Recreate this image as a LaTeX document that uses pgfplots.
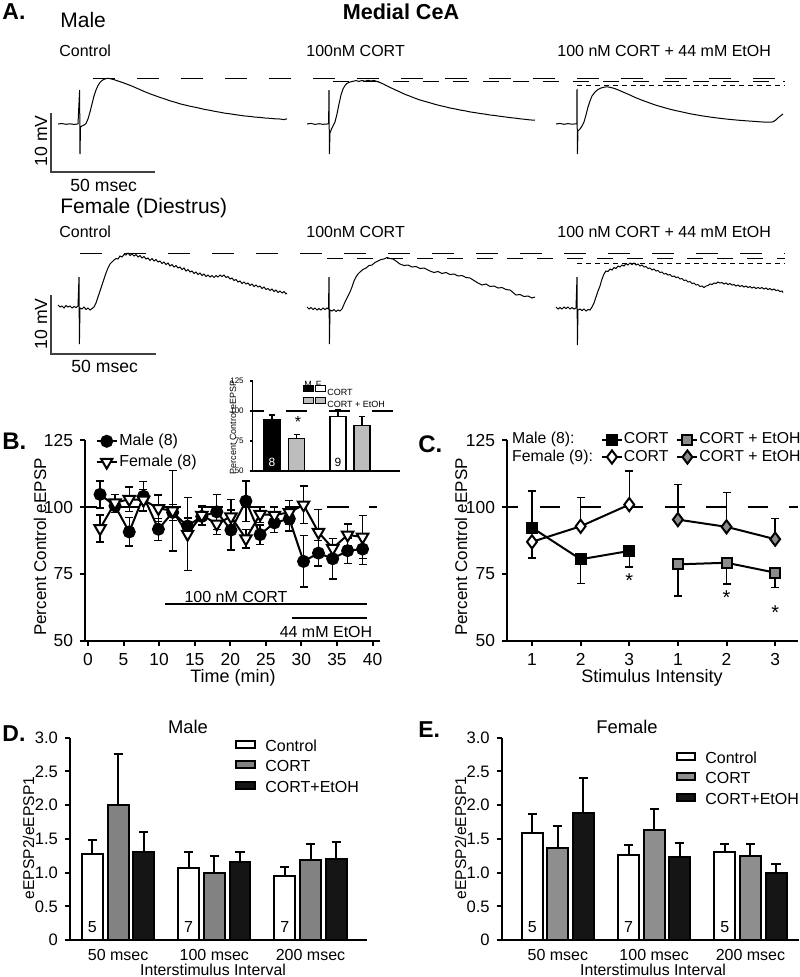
\documentclass[border=0pt]{standalone}
\usepackage{fontspec}
\setmainfont{Liberation Sans}
\usepackage{pgfplots}
\pgfplotsset{compat=1.18}

\newcommand\fs[1]{\fontsize{#1bp}{#1bp}\selectfont}
\definecolor{cgray}{HTML}{8C8C8C}
\definecolor{igray}{HTML}{BDBDBD}
\definecolor{dgray}{HTML}{828282}
\definecolor{egray}{HTML}{8E8E8E}
\definecolor{bblack}{HTML}{151515}

\pgfplotsset{
  gp/.style={scale only axis, axis x line=bottom, axis y line=left,
    axis line style={-, line width=1bp}, tick align=outside, major tick length=2.5bp,
    tick style={line width=1bp, black}, ticklabel style={font=\fs{8.7}},
    /pgf/number format/assume math mode=true, clip=false},
  ebar/.style={error bars/y dir=both, error bars/y explicit,
    error bars/error bar style={line width=0.7bp, solid},
    error bars/error mark options={rotate=90, mark size=2bp, line width=0.7bp, solid}},
  bbar/.style={error bars/y dir=plus, error bars/y explicit,
    error bars/error bar style={line width=1bp},
    error bars/error mark options={rotate=90, mark size=2.3bp, line width=1bp}},
  trace/.style={black, line width=0.5bp},
}

\begin{document}
\begin{tikzpicture}[x=0.5bp, y=-0.5bp, lab/.style={inner sep=0pt, text height=0.72em, text depth=0pt}]
\path[use as bounding box] (0,0) rectangle (800,977);
\coordinate (Ac) at (400,195);
\coordinate (Bc) at (232.5,540.5);
\coordinate (Ic) at (326.35,426);
\coordinate (Cc) at (652.5,540.5);
\coordinate (Dc) at (218.5,838.85);
\coordinate (Ec) at (650.35,838.85);

% ---------- A: example traces (pixel units)
\begin{axis}[at={(Ac)}, anchor=center, scale only axis, width=400bp, height=195bp,
  xmin=0, xmax=800, ymin=0, ymax=390, y dir=reverse, hide axis, clip=false]
% male
\addplot[trace] coordinates {(58,124) (62,123.5) (66,124.3) (70,123.8) (74,124.4) (78,123.9) (79.6,90) (80,154) (80.5,127) (82,126) (84,125) (86,123.5) (88,119) (90,112) (92,104) (94,96) (96,90) (98,85.5) (100,82.5) (102,80.5) (104,79.3) (107,78.3) (110,78.6) (114,79.6) (118,81) (122,82.3) (126,83.8) (130,85.3) (135,87.4) (140,89.6) (145,91.8) (150,93.8) (155,95.6) (160,97.4) (165,99) (170,100.8) (175,102.2) (180,103.8) (185,105) (190,106.2) (195,107.2) (200,108.3) (205,109.5) (210,110.3) (215,111.4) (220,112.2) (225,113.2) (230,113.8) (235,114.6) (240,115.3) (245,116) (250,116.4) (255,117.1) (260,117.4) (265,118) (270,118.3) (275,118.8) (280,119) (284,119.6) (287,118.8)};
\addplot[trace] coordinates {(307,124) (311,123.4) (315,124.4) (319,123.7) (323,124.3) (327,124) (328.6,123.5) (329,90) (329.4,154) (330,133) (331.5,129) (333,126) (335,122) (337,114) (339,104) (341,95) (343,89) (345,85.5) (347,83.3) (350,82) (353,81.3) (356,80.6) (359,81.4) (362,80.5) (365,81.2) (368,80.3) (371,81) (374,80.4) (377,81.5) (380,82.5) (384,84.3) (388,86.4) (392,88.3) (396,90.2) (400,92) (405,94.3) (410,96.2) (415,98.2) (420,100) (425,101.4) (430,102.8) (435,104.3) (440,105.6) (445,106.7) (450,108) (455,108.9) (460,110) (465,110.8) (470,111.9) (475,112.6) (480,113.5) (485,114.1) (490,115) (495,115.5) (500,116.3) (505,116.9) (510,117.6) (515,118.1) (520,118.8) (525,119.3) (530,119.9) (535,120.2)};
\addplot[trace] coordinates {(556,124) (560,123.4) (564,124.3) (568,123.6) (572,124.2) (576,123.8) (576.8,124) (577,89) (577.4,154) (578,131) (580,129) (582,126) (584,122) (586,115) (588,107) (590,101) (592,96) (595,92) (598,89.5) (601,88) (604,87.2) (607,86.8) (610,87.3) (614,88.3) (618,89.8) (622,91.6) (626,93.3) (630,95) (635,97.4) (640,99.4) (645,101.3) (650,103.1) (655,104.9) (660,106.4) (665,107.8) (670,109.2) (675,110.4) (680,111.5) (685,112.6) (690,113.7) (695,114.6) (700,115.5) (705,116.3) (710,117) (715,117.7) (720,118.3) (725,118.9) (730,119.4) (735,119.9) (740,120.3) (745,120.7) (750,121.1) (755,121.4) (760,121.8) (765,122.1) (770,122.2) (773,121.8) (776,119.8) (779,117) (783,114)};
% female
\addplot[trace] coordinates {(58,305) (60,307) (62,306) (64,308) (66,305.5) (68,307) (70,306) (72,308) (74,306.5) (76,307.5) (78,306) (79,277) (79.4,344) (80,308) (82,309) (84,307) (86,309.5) (88,308) (90,310) (92,308.5) (94,307) (96,303) (98,297) (100,291) (102,285) (104,279) (106,273) (108,268) (110,264) (112,262) (114,260) (116,258.5) (118,259) (120,256) (122,257) (124,254.5) (126,255) (128,253) (130,255.5) (132,254) (134,256) (136,254.5) (138,257) (140,255.5) (142,258) (144,256.5) (146,259) (148,258) (150,260.5) (152,258.5) (154,261) (156,259.5) (158,262) (160,261) (162,263.5) (164,262) (166,264.5) (168,263) (170,266) (172,264.5) (174,267) (176,265.5) (178,268) (180,267) (182,269.5) (184,268) (186,271) (188,269.5) (190,272) (192,271) (194,273.5) (196,272) (198,274.5) (200,273) (202,275.5) (204,274) (206,276.5) (208,275) (210,277) (212,275.5) (214,277.5) (216,275.5) (218,277) (220,275) (222,276.5) (224,275) (226,277.5) (228,276.5) (230,279) (232,278) (234,280.5) (236,279.5) (238,282) (240,281) (242,283.5) (244,282) (246,284) (248,283) (250,285.5) (252,284) (254,286.5) (256,285) (258,287) (260,286) (262,288.5) (264,287) (266,289.5) (268,288.5) (270,290.5) (272,289) (274,291.5) (276,290) (278,292.5) (280,291) (282,293) (284,291.5) (286,294) (287,293)};
\addplot[trace] coordinates {(307,307) (309,309) (311,307.5) (313,309.5) (315,308) (317,310) (319,308.5) (321,310) (323,308) (325,309.5) (327,308) (328.5,309) (329,277) (329.4,344) (330,310) (332,311) (334,309.5) (336,311.5) (338,310) (340,311) (342,309) (345,302) (348,296) (350,292) (352,287) (354,281) (356,277) (358,274) (360,272) (363,269.5) (366,268) (369,265.5) (372,265) (375,262.5) (378,261) (381,259.5) (384,259) (387,257.5) (390,258.5) (393,259) (396,261) (400,264) (404,265.5) (408,265) (412,267) (416,266.5) (420,268.5) (424,268) (428,270) (430,271) (434,272.5) (438,271.5) (442,273.5) (446,272.5) (450,274.5) (454,274) (458,276) (462,275.5) (466,277.5) (470,278) (474,280.5) (478,283) (482,285) (486,284) (490,286.5) (494,286) (498,288) (502,287.5) (506,289.5) (510,290) (513,292.5) (516,295) (520,294.5) (524,296.5) (528,296) (532,298) (535,297)};
\addplot[trace] coordinates {(556,307) (558,309) (560,307.5) (562,309) (564,307) (566,308.5) (568,307) (570,309) (572,307.5) (574,309) (576,308) (577,277) (577.4,345) (578,310) (580,309) (582,310.5) (584,309) (586,311) (588,309.5) (590,310) (592,307) (594,303) (596,297) (598,291) (600,286) (602,279) (604,274) (606,271) (608,271.5) (610,269) (612,270) (614,267.5) (616,268.5) (618,266) (620,267) (622,265) (624,266) (626,263.5) (628,265) (630,263) (632,264.5) (634,263) (636,265) (638,264) (640,266) (642,265) (644,267) (646,266.5) (648,268.5) (650,268) (652,270) (654,269) (656,271) (658,270.5) (660,272.5) (662,272) (664,274) (666,273.5) (668,275) (670,274.5) (672,276.5) (674,276) (676,277.5) (678,277) (680,279) (682,278.5) (684,280.5) (686,280) (688,282) (690,281.5) (692,283.5) (694,283) (696,285) (698,284.5) (700,286.5) (702,286) (704,287.5) (706,286) (708,285.5) (710,284) (712,284.5) (714,283) (716,283.5) (718,282) (720,283) (722,282.5) (724,284) (726,283) (728,284.5) (730,283.5) (732,285) (734,284.5) (736,286) (738,285) (740,286.5) (742,285.5) (744,287) (746,286) (748,287.5) (750,286.5) (752,288) (754,287) (756,288.5) (758,287.5) (760,288.5) (762,287.5) (764,289) (766,288) (768,289.5) (770,288.5) (772,290) (774,289) (776,290.5) (778,290) (780,291.5) (782,291) (783,292.5)};
% peak reference lines
\draw[line width=0.5bp, dash pattern=on 11bp off 11bp] (93,78) -- (785,78);
\draw[line width=0.5bp, dash pattern=on 8bp off 7bp] (333,81) -- (785,81);
\draw[line width=0.5bp, dash pattern=on 2.5bp off 2bp] (577,85) -- (785,85);
\draw[line width=0.5bp, dash pattern=on 11bp off 11bp] (80,253) -- (785,253);
\draw[line width=0.5bp, dash pattern=on 8bp off 7bp] (327,258) -- (785,258);
\draw[line width=0.5bp, dash pattern=on 2.5bp off 2bp] (577,263) -- (785,263);
% scale bars
\draw[line width=0.6bp, black!75] (51,113) -- (51,172) -- (155,172);
\draw[line width=0.6bp, black!75] (51,295) -- (51,354) -- (156,354);
\end{axis}

\node[lab, anchor=west, font=\fs{11.5}\bfseries] at (2,12) {A.};
\node[lab, font=\fs{10.8}\bfseries] at (401,12) {Medial CeA};
\node[lab, anchor=west, font=\fs{10.5}] at (60,20) {Male};
\node[lab, anchor=west, font=\fs{10.5}] at (60,206) {Female (Diestrus)};
\foreach \yy in {49,230} {
  \node[lab, anchor=west, font=\fs{8}] at (59,\yy) {Control};
  \node[lab, anchor=west, font=\fs{8}] at (306,\yy) {100nM CORT};
  \node[lab, anchor=west, font=\fs{8}] at (557,\yy) {100 nM CORT + 44 mM EtOH};
}
\node[lab, rotate=90, font=\fs{8.8}] at (40,141) {10 mV};
\node[lab, rotate=90, font=\fs{8.8}] at (40,324) {10 mV};
\node[lab, anchor=west, font=\fs{8.8}] at (70,184) {50 msec};
\node[lab, anchor=west, font=\fs{8.8}] at (71,365) {50 msec};

% ---------- B: time course
\begin{axis}[gp, at={(Bc)}, anchor=center, width=147.5bp, height=100.5bp,
  xmin=-0.42, xmax=41.05, ymin=50, ymax=125,
  xtick={0,5,10,15,20,25,30,35,40}, ytick={50,75,100,125},
  legend style={at={(rel axis cs:0.035,1.04)}, anchor=north west, draw=none, fill=none,
    font=\fs{8}, inner sep=0pt, row sep=1.5bp, nodes={inner sep=0.8bp}},
  legend cell align=left,
  legend image code/.code={\draw[mark repeat=2, mark phase=2, #1] plot coordinates {(0bp,0bp) (5bp,0bp) (10bp,0bp)};}]
\draw[line width=1bp, dash pattern=on 11bp off 10bp, dash phase=5bp] (axis cs:-0.42,100) -- (axis cs:40.6,100);
\addplot[black, line width=1bp, mark=*, mark size=2.75bp, mark options={solid, fill=black}, ebar]
coordinates {
(1.7,104.7) +- (0,5) (3.8,100.4) +- (0,2.5) (5.8,90.7) +- (0,5.3) (7.8,104) +- (0,5.5)
(9.9,91.7) +- (0,4.1) (11.9,98) +- (0,3) (14.0,92.9) +- (0,3) (16.0,96.5) +- (0,3.5)
(18.1,98.2) +- (0,6.5) (20.1,91.4) +- (0,7.5) (22.2,102.2) +- (0,7.5) (24.2,89.7) +- (0,3.6)
(26.2,94.1) +- (0,3.5) (28.3,95.6) +- (0,4.5) (30.3,79.7) +- (0,9.6) (32.4,82.8) +- (0,4.8)
(34.4,80.7) +- (0,7.5) (36.5,83.7) +- (0,4.7) (38.6,84.3) +- (0,5.7)};
\addlegendentry{Male (8)}
\addplot[black, line width=1bp, mark=triangle*, mark size=3.3bp, mark options={solid, fill=white, rotate=180}, ebar]
coordinates {
(1.7,92) +- (0,5) (3.8,101.6) +- (0,3) (5.8,102.9) +- (0,4.5) (7.8,102.6) +- (0,4)
(9.9,99.5) +- (0,5) (11.9,98.6) +- (0,15) (14.0,89.9) +- (0,13.7) (16.0,97) +- (0,3.5)
(18.1,93.7) +- (0,4) (20.1,96.4) +- (0,6.5) (22.2,88.2) +- (0,3.5) (24.2,97.3) +- (0,3)
(26.2,97) +- (0,3) (28.3,98) +- (0,4.5) (30.3,100.8) +- (0,7) (32.4,90.6) +- (0,8.5)
(34.4,84.6) +- (0,3.6) (36.5,89.6) +- (0,4) (38.6,88.8) +- (0,8)};
\addlegendentry{Female (8)}
\end{axis}
\draw[line width=1bp] (165,604) -- (367,604);
\draw[line width=1bp] (292,618) -- (367,618);
\node[lab, font=\fs{8}] at (236,595) {100 nM CORT};
\node[lab, font=\fs{8}] at (326,630) {44 mM EtOH};
\node[lab, anchor=west, font=\fs{12}\bfseries] at (2,442) {B.};
\node[lab, rotate=90, font=\fs{8.5}] at (39,547) {Percent Control eEPSP};
\node[lab, font=\fs{9}] at (233,675) {Time (min)};

% ---------- B inset
\begin{axis}[gp, at={(Ic)}, anchor=center, width=73.65bp, height=45bp,
  xmin=0, xmax=147.3, ymin=50, ymax=125, clip=true,
  xtick=\empty, ytick={50,75,100,125}, major tick length=1.5bp,
  axis line style={line width=0.6bp}, tick style={line width=0.6bp},
  ticklabel style={font=\fs{4}}, yticklabel style={xshift=0.5bp}]
\draw[line width=0.8bp, dash pattern=on 10.5bp off 11bp, dash phase=4.85bp] (axis cs:0,100) -- (axis cs:147.3,100);
\addplot[ybar, bar width=16, bar shift=0pt, fill=black, draw=black, line width=0.6bp,
  error bars/y dir=plus, error bars/y explicit, error bars/error bar style={line width=0.6bp},
  error bars/error mark options={rotate=90, mark size=1.5bp, line width=0.6bp}]
  coordinates {(19.3,93.1) += (0,3.6)};
\addplot[ybar, bar width=16, bar shift=0pt, fill=igray, draw=black, line width=0.6bp,
  error bars/y dir=plus, error bars/y explicit, error bars/error bar style={line width=0.6bp},
  error bars/error mark options={rotate=90, mark size=1.5bp, line width=0.6bp}]
  coordinates {(43.8,77.3) += (0,3.3) (109.3,87.8) += (0,7.5)};
\addplot[ybar, bar width=16, bar shift=0pt, fill=white, draw=black, line width=0.6bp,
  error bars/y dir=plus, error bars/y explicit, error bars/error bar style={line width=0.6bp},
  error bars/error mark options={rotate=90, mark size=1.5bp, line width=0.6bp}]
  coordinates {(85.2,95.3) += (0,5.5)};
\node[font=\fs{6}, text=white] at (axis cs:19.3,57.3) {8};
\node[font=\fs{6}] at (axis cs:85.2,57.3) {9};
\node[font=\fs{8}] at (axis cs:45.3,90.5) {*};
\end{axis}
\node[lab, rotate=90, font=\fs{4.5}] at (229,427) {Percent Control eEPSP};
\node[lab, font=\fs{4.5}] at (308,380) {M};
\node[lab, font=\fs{4.5}] at (318.5,380) {F};
\draw[fill=black, line width=0.5bp] (303,385.5) rectangle (313,391.5);
\draw[fill=white, line width=0.5bp] (315,385.5) rectangle (325,391.5);
\draw[fill=igray, line width=0.5bp] (303,397) rectangle (313,403);
\draw[fill=igray, line width=0.5bp] (315,397) rectangle (325,403);
\node[lab, anchor=west, font=\fs{4.5}] at (327,388.5) {CORT};
\node[lab, anchor=west, font=\fs{4.5}] at (327,400) {CORT + EtOH};

% ---------- C: stimulus intensity
\begin{axis}[gp, at={(Cc)}, anchor=center, width=145.5bp, height=100.5bp,
  xmin=0.486, xmax=6.47, ymin=50, ymax=125,
  xtick={1,2,3,4,5,6}, xticklabels={1,2,3,1,2,3}, ytick={50,75,100,125},
  legend columns=3,
  legend style={at={(rel axis cs:0.013,1.045)}, anchor=north west, draw=none, fill=none,
    font=\fs{7.9}, inner sep=0pt, row sep=0.5bp, nodes={inner sep=0.5bp},
    /tikz/every even column/.append style={column sep=3.5bp}},
  legend cell align=left,
  legend image code/.code={\draw[mark repeat=2, mark phase=2, #1] plot coordinates {(0bp,0bp) (5bp,0bp) (10bp,0bp)};}]
\draw[line width=1bp, dash pattern=on 10bp off 10.75bp, dash phase=4.25bp] (axis cs:0.486,100) -- (axis cs:6.47,100);
\addplot[forget plot, black, line width=1bp, mark=square*, mark size=2.5bp, mark options={solid, fill=black}, ebar]
  coordinates {(1,92.3) += (0,13.7) -= (0,0) (2,80.5) += (0,0) -= (0,9) (3,83.6) += (0,0) -= (0,6)};
\addplot[forget plot, black, line width=1bp, mark=diamond*, mark size=3.3bp, mark options={solid, fill=white}, ebar]
  coordinates {(1,87) += (0,0) -= (0,6) (2,92.8) += (0,10.7) -= (0,0) (3,100.9) += (0,12.5) -= (0,0)};
\addplot[forget plot, black, line width=1bp, mark=square*, mark size=2.5bp, mark options={solid, fill=cgray}, ebar]
  coordinates {(4,78.6) += (0,0) -= (0,11.8) (5,79.2) += (0,0) -= (0,7.9) (6,75.5) += (0,0) -= (0,5.6)};
\addplot[forget plot, black, line width=1bp, mark=diamond*, mark size=3.3bp, mark options={solid, fill=cgray}, ebar]
  coordinates {(4,95.3) += (0,13.2) -= (0,0) (5,92.6) += (0,12.8) -= (0,0) (6,88) += (0,7.7) -= (0,0)};
\addlegendimage{empty legend}\addlegendentry{Male (8):}
\addlegendimage{black, line width=1bp, mark=square*, mark size=2.5bp, mark options={solid, fill=black}}\addlegendentry{CORT}
\addlegendimage{black, line width=1bp, mark=square*, mark size=2.5bp, mark options={solid, fill=cgray}}\addlegendentry{CORT + EtOH}
\addlegendimage{empty legend}\addlegendentry{Female (9):}
\addlegendimage{black, line width=1bp, mark=diamond*, mark size=3.3bp, mark options={solid, fill=white}}\addlegendentry{CORT}
\addlegendimage{black, line width=1bp, mark=diamond*, mark size=3.3bp, mark options={solid, fill=cgray}}\addlegendentry{CORT + EtOH}
\node[font=\fs{10}] at (axis cs:3,72.5) {*};
\node[font=\fs{10}] at (axis cs:5,66.3) {*};
\node[font=\fs{10}] at (axis cs:6,60.7) {*};
\end{axis}
\node[lab, anchor=west, font=\fs{12}\bfseries] at (418,445) {C.};
\node[lab, rotate=90, font=\fs{8.5}] at (460,547) {Percent Control eEPSP};
\node[lab, font=\fs{9}] at (652,675) {Stimulus Intensity};

% ---------- D: male paired-pulse ratio
\begin{axis}[gp, at={(Dc)}, anchor=center, width=148.5bp, height=101.15bp,
  xmin=0.5, xmax=3.587, ymin=0, ymax=3,
  xtick={1,2,3}, xticklabels={50 msec,100 msec,200 msec}, x tick style={draw=none},
  xticklabel style={font=\fs{8}, yshift=1.5bp}, yticklabel style={font=\fs{8.3}},
  ytick={0,0.5,1,1.5,2,2.5,3}, yticklabels={0,0.5,1.0,1.5,2.0,2.5,3.0}]
\addplot[ybar, bar width=0.218, bar shift=0pt, fill=white, draw=black, line width=1bp, bbar]
  coordinates {(0.733,1.28) += (0,0.20) (1.733,1.065) += (0,0.235) (2.733,0.95) += (0,0.13)};
\addplot[ybar, bar width=0.218, bar shift=0pt, fill=dgray, draw=black, line width=1bp, bbar]
  coordinates {(1,2.0) += (0,0.76) (2,1.0) += (0,0.24) (3,1.19) += (0,0.23)};
\addplot[ybar, bar width=0.218, bar shift=0pt, fill=bblack, draw=black, line width=1bp, bbar]
  coordinates {(1.267,1.306) += (0,0.30) (2.267,1.16) += (0,0.14) (3.267,1.20) += (0,0.26)};
\node[font=\fs{8}] at (axis cs:0.733,0.19) {5};
\node[font=\fs{8}] at (axis cs:1.733,0.19) {7};
\node[font=\fs{8}] at (axis cs:2.733,0.19) {7};
\end{axis}
\node[lab, anchor=west, font=\fs{11.5}\bfseries] at (2,734) {D.};
\node[lab, font=\fs{9.2}] at (188,726) {Male};
\node[lab, rotate=90, font=\fs{7.8}] at (27,838) {eEPSP2/eEPSP1};
\node[lab, font=\fs{7.9}] at (213,968) {Interstimulus Interval};
\draw[fill=white, line width=1bp] (236,740.5) rectangle (255,747.5);
\draw[fill=dgray, line width=1bp] (236,760.5) rectangle (255,767.5);
\draw[fill=bblack, line width=1bp] (236,781.5) rectangle (255,788.5);
\node[lab, anchor=west, font=\fs{8}] at (265,744) {Control};
\node[lab, anchor=west, font=\fs{8}] at (265,764) {CORT};
\node[lab, anchor=west, font=\fs{8}] at (265,785) {CORT+EtOH};

% ---------- E: female paired-pulse ratio
\begin{axis}[gp, at={(Ec)}, anchor=center, width=148.65bp, height=101.15bp,
  xmin=0.417, xmax=3.504, ymin=0, ymax=3,
  xtick={1,2,3}, xticklabels={50 msec,100 msec,200 msec}, x tick style={draw=none},
  xticklabel style={font=\fs{8}, yshift=1.5bp}, yticklabel style={font=\fs{8.3}},
  ytick={0,0.5,1,1.5,2,2.5,3}, yticklabels={0,0.5,1.0,1.5,2.0,2.5,3.0}]
\addplot[ybar, bar width=0.218, bar shift=0pt, fill=white, draw=black, line width=1bp, bbar]
  coordinates {(0.734,1.59) += (0,0.28) (1.734,1.26) += (0,0.15) (2.734,1.30) += (0,0.12)};
\addplot[ybar, bar width=0.218, bar shift=0pt, fill=egray, draw=black, line width=1bp, bbar]
  coordinates {(1,1.37) += (0,0.32) (2,1.63) += (0,0.32) (3,1.25) += (0,0.18)};
\addplot[ybar, bar width=0.218, bar shift=0pt, fill=bblack, draw=black, line width=1bp, bbar]
  coordinates {(1.266,1.89) += (0,0.51) (2.266,1.23) += (0,0.21) (3.266,1.00) += (0,0.12)};
\node[font=\fs{8}] at (axis cs:0.734,0.19) {5};
\node[font=\fs{8}] at (axis cs:1.734,0.19) {7};
\node[font=\fs{8}] at (axis cs:2.734,0.19) {5};
\end{axis}
\node[lab, anchor=west, font=\fs{11.5}\bfseries] at (418,730) {E.};
\node[lab, font=\fs{9.2}] at (627,726) {Female};
\node[lab, rotate=90, font=\fs{7.8}] at (459,838) {eEPSP2/eEPSP1};
\node[lab, font=\fs{7.9}] at (653,968) {Interstimulus Interval};
\draw[fill=white, line width=1bp] (677,752.5) rectangle (695,759.5);
\draw[fill=egray, line width=1bp] (677,772.5) rectangle (695,779.5);
\draw[fill=bblack, line width=1bp] (677,793.5) rectangle (695,800.5);
\node[lab, anchor=west, font=\fs{8}] at (705,756) {Control};
\node[lab, anchor=west, font=\fs{8}] at (705,776) {CORT};
\node[lab, anchor=west, font=\fs{8}] at (705,797) {CORT+EtOH};
\end{tikzpicture}
\end{document}
